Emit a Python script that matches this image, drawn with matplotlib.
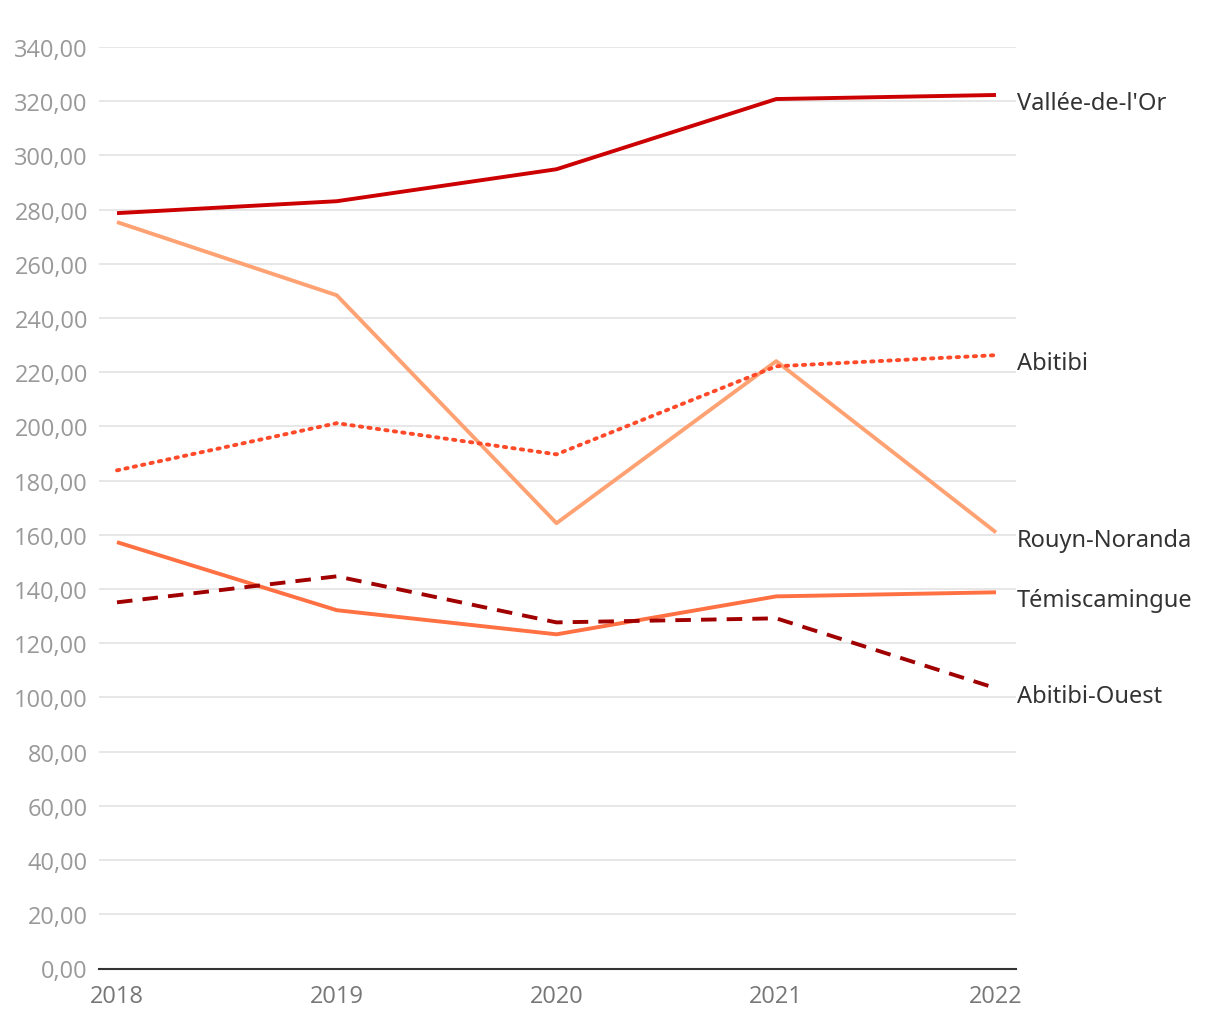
import matplotlib
matplotlib.use('Agg')
import matplotlib.pyplot as plt
from matplotlib.ticker import FuncFormatter

# données
years = [2018, 2019, 2020, 2021, 2022]
vallee = [278.7, 283.1, 294.9, 320.8, 322.3]
rouyn = [275.4, 248.4, 164.3, 224.1, 160.9]
abitibi = [183.8, 201.2, 189.7, 222.2, 226.3]
temis = [157.3, 132.2, 123.3, 137.3, 138.8]
abitibi_ouest = [135.1, 144.7, 127.7, 129.2, 103.4]

series = [
    ('Vallée-de-l\'Or', vallee, '#cc0000', '-'),
    ('Rouyn-Noranda', rouyn, '#ffa273', '-'),
    ('Abitibi', abitibi, '#ff4a2a', ':'),
    ('Témiscamingue', temis, '#ff7043', '-'),
    ('Abitibi-Ouest', abitibi_ouest, '#a00000', '--'),
]

fig = plt.figure(figsize=(12.2, 10.2), dpi=100)
ax = fig.add_axes([99 / 1220, 1 - 969.5 / 1020, (1016 - 99) / 1220, (969.5 - 48) / 1020])

for name, vals, col, ls in series:
    if ls == ':':
        ax.plot(years, vals, color=col, lw=2.8, linestyle=(0, (0.6, 1.6)),
                dash_capstyle='round', zorder=3)
    elif ls == '--':
        ax.plot(years, vals, color=col, lw=2.8, linestyle=(0, (4, 2.6)), zorder=3)
    else:
        ax.plot(years, vals, color=col, lw=2.8, zorder=3, solid_capstyle='butt')
    ax.annotate(name, xy=(years[-1], vals[-1]), xytext=(15, -5.5), textcoords='offset points',
                ha='left', va='center', fontsize=17, color='#333333',
                family=['Noto Sans', 'DejaVu Sans'], annotation_clip=False)

ax.set_xlim(2018 - 18 / 219.75, 2022 + 20 / 219.75)
ax.set_ylim(0, 340)
ax.set_yticks(range(0, 341, 20))
ax.yaxis.set_major_formatter(FuncFormatter(lambda v, p: f'{v:.2f}'.replace('.', ',')))
ax.set_xticks(years)
ax.grid(axis='y', color='#e3e3e3', lw=1.2)
ax.set_axisbelow(True)
for s in ['top', 'right', 'left']:
    ax.spines[s].set_visible(False)
ax.spines['bottom'].set_color('#333333')
ax.spines['bottom'].set_linewidth(1.5)
ax.tick_params(axis='y', length=0, pad=8, labelsize=17, labelcolor='#999999')
ax.tick_params(axis='x', length=0, pad=11, labelsize=17, labelcolor='#777777')
for lbl in ax.get_yticklabels() + ax.get_xticklabels():
    lbl.set_family(['Open Sans', 'DejaVu Sans'])

fig.savefig('out.png', dpi=100)
